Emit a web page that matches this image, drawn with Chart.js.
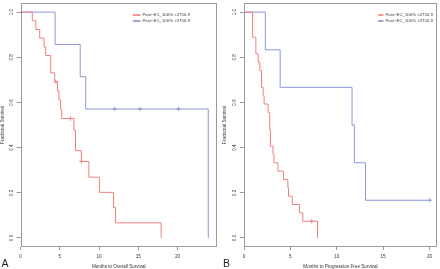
<!DOCTYPE html>
<html>
<head>
<meta charset="utf-8">
<script src="https://cdn.jsdelivr.net/npm/chart.js@4"></script>
<style>
html,body{margin:0;padding:0;background:#fff;}
#wrap{position:relative;width:440px;height:269px;overflow:hidden;}
canvas{position:absolute;top:0;}
#cA{left:0;}
#cB{left:220px;}
</style>
</head>
<body>
<div id="wrap">
<canvas id="cA" width="220" height="269"></canvas>
<canvas id="cB" width="220" height="269"></canvas>
</div>
<script>
// ---------- data ----------
const monthTicks = [0, 5, 10, 15, 20];
const survTicks = [0, 0.2, 0.4, 0.6, 0.8, 1.0];
const seriesNames = ['Post\u2212EC_100% <2750.9', 'Post\u2212EC_100% >2750.9'];

// Panel A: overall survival
const osLowTime = [0, 1.5, 1.95, 2.45, 3.0, 3.2, 3.85, 4.35, 4.7, 4.9, 5.1, 5.25, 6.8, 7.0, 7.75, 8.7, 10.05, 11.85, 12.1, 17.9];
const osLowSurv = [1, 0.962, 0.923, 0.885, 0.846, 0.808, 0.731, 0.692, 0.651, 0.611, 0.570, 0.529, 0.477, 0.387, 0.339, 0.269, 0.202, 0.135, 0.067, 0];
const osLowCensTime = [4.5, 6.35, 7.75];
const osLowCensSurv = [0.692, 0.529, 0.339];
const osHighTime = [0, 4.4, 7.6, 8.3, 23.9];
const osHighSurv = [1, 0.857, 0.714, 0.571, 0];
const osHighCensTime = [12.0, 15.2, 20.1];
const osHighCensSurv = [0.571, 0.571, 0.571];

// Panel B: progression free survival
const pfsLowTime = [0, 0.93, 1.28, 1.53, 1.71, 1.89, 2.06, 2.17, 2.6, 2.77, 2.85, 3.13, 3.23, 3.66, 4.27, 4.73, 4.8, 5.2, 5.98, 6.34, 7.93];
const pfsLowSurv = [1, 0.889, 0.815, 0.778, 0.741, 0.667, 0.630, 0.593, 0.556, 0.481, 0.407, 0.370, 0.333, 0.296, 0.259, 0.222, 0.185, 0.148, 0.111, 0.074, 0];
const pfsLowCensTime = [7.3];
const pfsLowCensSurv = [0.074];
const pfsHighTime = [0, 2.3, 3.9, 11.65, 11.9, 13.1, 20.05];
const pfsHighSurv = [1, 0.833, 0.667, 0.5, 0.333, 0.167, 0.167];
const pfsHighCensTime = [20.05];
const pfsHighCensSurv = [0.167];

// ---------- styling ----------
const FONT = 'Liberation Sans, Arial, sans-serif';
const RED_LINE = '#ef8080';
const BLUE_LINE = '#8c96d6';
const RED_KEY = '#e6302e';
const BLUE_KEY = '#3f50a8';
const FRAME = '#9a9a9a';
const TXT = '#333';

function pts(xs, ys) { return xs.map((x, i) => ({x: x, y: ys[i]})); }

function makePanel(id, o) {
  const decor = {
    id: 'decor',
    afterDraw(chart) {
      const ctx = chart.ctx, a = chart.chartArea, ys = chart.scales.y;
      ctx.save();
      // frame
      ctx.strokeStyle = FRAME; ctx.lineWidth = 1;
      ctx.strokeRect(Math.round(a.left) + 0.5, Math.round(a.top) + 0.5,
                     Math.round(a.right - a.left) - 1, Math.round(a.bottom - a.top) - 1);
      // rotated y tick labels
      ctx.fillStyle = TXT;
      ctx.font = '4.6px ' + FONT;
      ctx.textAlign = 'center'; ctx.textBaseline = 'middle';
      ys.ticks.forEach(t => {
        const py = ys.getPixelForValue(t.value);
        ctx.save();
        ctx.translate(a.left - o.yLabOff, py);
        ctx.rotate(-Math.PI / 2);
        ctx.fillText(t.value.toFixed(1), 0, 0);
        ctx.restore();
      });
      // legend
      ctx.textAlign = 'left'; ctx.textBaseline = 'middle';
      ctx.font = '4.3px ' + FONT;
      const keys = [RED_KEY, BLUE_KEY];
      seriesNames.forEach((n, i) => {
        const y = o.legY + i * 6;
        ctx.strokeStyle = keys[i]; ctx.lineWidth = 1;
        ctx.beginPath(); ctx.moveTo(o.legX, y + 0.5); ctx.lineTo(o.legX + o.legLen, y + 0.5); ctx.stroke();
        ctx.fillStyle = TXT;
        ctx.fillText(n, o.legX + o.legLen + 2, y + 0.5);
      });
      // panel letter
      ctx.fillStyle = '#222';
      ctx.font = '10.5px ' + FONT;
      ctx.textAlign = 'left'; ctx.textBaseline = 'alphabetic';
      ctx.fillText(o.letter, o.letterX, 266.5);
      ctx.restore();
    }
  };
  const cens = (xs, ys, c) => ({
    data: pts(xs, ys), showLine: false, pointStyle: 'cross', pointRadius: 2.2,
    borderColor: c, backgroundColor: c, pointBorderWidth: 0.9, pointHoverRadius: 0
  });
  return new Chart(document.getElementById(id), {
    type: 'line',
    data: {
      datasets: [
        {data: pts(o.lowT, o.lowS), stepped: 'before', borderColor: RED_LINE, borderWidth: 1, pointRadius: 0, fill: false},
        {data: pts(o.highT, o.highS), stepped: 'before', borderColor: BLUE_LINE, borderWidth: 1, pointRadius: 0, fill: false},
        cens(o.lowCT, o.lowCS, RED_LINE),
        cens(o.highCT, o.highCS, BLUE_LINE)
      ]
    },
    options: {
      responsive: false, animation: false, devicePixelRatio: 1,
      layout: {padding: {left: 0, right: o.padRight, top: 0.5, bottom: 0}},
      plugins: {legend: {display: false}, tooltip: {enabled: false}},
      scales: {
        x: {
          type: 'linear', min: 0, max: o.xMax,
          afterBuildTicks: s => { s.ticks = monthTicks.map(v => ({value: v})); },
          afterFit: s => { s.height = 22; },
          grid: {drawOnChartArea: false, tickLength: 3, color: FRAME},
          border: {display: false},
          ticks: {font: {size: 4.6, family: FONT}, color: TXT, padding: 3.5, maxRotation: 0},
          title: {display: true, text: o.xTitle, font: {size: 4.6, family: FONT}, color: TXT, padding: {top: 0, bottom: 0}}
        },
        y: {
          type: 'linear', min: -0.04, max: 1.04,
          afterBuildTicks: s => { s.ticks = survTicks.map(v => ({value: v})); },
          afterFit: s => { s.width = o.yWidth; },
          grid: {drawOnChartArea: false, tickLength: 4, color: FRAME},
          border: {display: false},
          ticks: {display: false},
          title: {display: true, text: 'Fractional Survival', font: {size: 4.6, family: FONT}, color: TXT, padding: {top: o.yTitlePad, bottom: 0}}
        }
      }
    },
    plugins: [decor]
  });
}

makePanel('cA', {
  lowT: osLowTime, lowS: osLowSurv, highT: osHighTime, highS: osHighSurv,
  lowCT: osLowCensTime, lowCS: osLowCensSurv, highCT: osHighCensTime, highCS: osHighCensSurv,
  xMax: 25, padRight: 3, yWidth: 20.5, yTitlePad: 0.3, yLabOff: 8.3,
  xTitle: 'Months to Overall Survival', legX: 133, legY: 14.5, legLen: 7.5,
  letter: 'A', letterX: 1.5
});
makePanel('cB', {
  lowT: pfsLowTime, lowS: pfsLowSurv, highT: pfsHighTime, highS: pfsHighSurv,
  lowCT: pfsLowCensTime, lowCS: pfsLowCensSurv, highCT: pfsHighCensTime, highCS: pfsHighCensSurv,
  xMax: 20.8, padRight: 1.3, yWidth: 24, yTitlePad: 2.3, yLabOff: 9,
  xTitle: 'Months to Progression Free Survival', legX: 158, legY: 14.5, legLen: 5.5,
  letter: 'B', letterX: 3
});
</script>
</body>
</html>
